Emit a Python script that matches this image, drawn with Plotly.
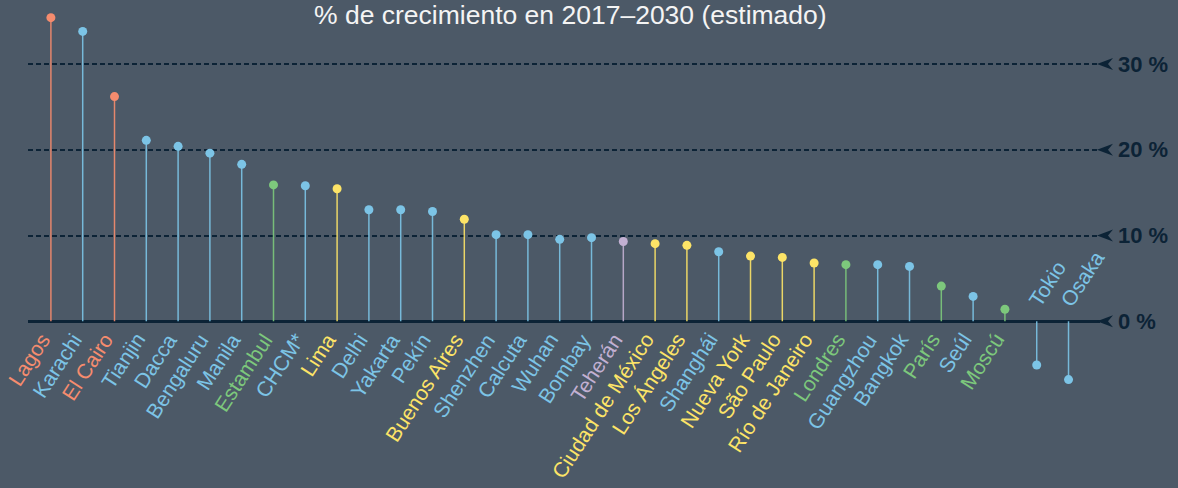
import plotly.graph_objects as go

cities = ["Lagos", "Karachi", "El Cairo", "Tianjin", "Dacca", "Bengaluru", "Manila",
          "Estambul", "CHCM*", "Lima", "Delhi", "Yakarta", "Pekín", "Buenos Aires",
          "Shenzhen", "Calcuta", "Wuhan", "Bombay", "Teherán", "Ciudad de México",
          "Los Ángeles", "Shanghái", "Nueva York", "São Paulo", "Río de Janeiro",
          "Londres", "Guangzhou", "Bangkok", "París", "Seúl", "Moscú", "Tokio", "Osaka"]
growth = [35.4, 33.8, 26.2, 21.1, 20.4, 19.6, 18.3,
          15.9, 15.8, 15.45, 13.0, 13.0, 12.8, 11.9,
          10.1, 10.1, 9.55, 9.75, 9.3, 9.05,
          8.85, 8.1, 7.6, 7.45, 6.8,
          6.6, 6.6, 6.4, 4.1, 2.9, 1.4, -5.1, -6.8]
region = ["africa", "asia", "africa", "asia", "asia", "asia", "asia",
          "europa", "asia", "america", "asia", "asia", "asia", "america",
          "asia", "asia", "asia", "asia", "oriente", "america",
          "america", "asia", "america", "america", "america",
          "europa", "asia", "asia", "europa", "asia", "europa", "asia", "asia"]
region_colors = {"africa": "#f68c6e", "asia": "#7cc4e6", "europa": "#7dc87c",
                 "america": "#fde467", "oriente": "#c2b0d2"}
tick_vals = [0, 10, 20, 30]
tick_text = ["0 %", "10 %", "20 %", "30 %"]
title_text = "% de crecimiento en 2017–2030 (estimado)"

BG = "#4c5967"
DARK = "#0c2336"
FONT = "Liberation Sans, Arial, sans-serif"

fig = go.Figure()
idx = list(range(len(cities)))

for reg, col in region_colors.items():
    xs, ys = [], []
    for i, v, r in zip(idx, growth, region):
        if r == reg:
            xs += [i, i, None]
            ys += [0, v, None]
    fig.add_trace(go.Scatter(x=xs, y=ys, mode="lines",
                             line=dict(color=col, width=1.5),
                             opacity=0.9, hoverinfo="skip", showlegend=False))

fig.add_trace(go.Scatter(x=idx, y=growth, mode="markers",
                         marker=dict(color=[region_colors[r] for r in region], size=9,
                                     line=dict(width=0)),
                         text=cities, hovertemplate="%{text}: %{y} %<extra></extra>",
                         showlegend=False))

annotations = []
for i, (c, v, r) in enumerate(zip(cities, growth, region)):
    col = region_colors[r]
    if v >= 0:
        annotations.append(dict(x=i, y=0, xref="x", yref="y", text=c, showarrow=False,
                                textangle=-57, xanchor="right", yanchor="top",
                                xshift=6, yshift=-5,
                                font=dict(family=FONT, size=21, color=col)))
    else:
        annotations.append(dict(x=i, y=0, xref="x", yref="y", text=c, showarrow=False,
                                textangle=-57, xanchor="left", yanchor="bottom",
                                xshift=-15, yshift=8,
                                font=dict(family=FONT, size=21, color=col)))

annotations.append(dict(x=0.5056, y=1, xref="paper", yref="paper", text=title_text,
                        showarrow=False, xanchor="center", yanchor="top", yshift=2,
                        font=dict(family=FONT, size=26.5, color="#f4f4f4")))

shapes = []
for tv in tick_vals:
    shapes.append(dict(type="path", xref="paper", yref="y",
                       xsizemode="pixel", ysizemode="pixel",
                       xanchor=1, yanchor=tv,
                       path="M-3,0 L13,-6 L8,0 L13,6 Z",
                       fillcolor=DARK, line=dict(width=0)))

fig.update_layout(
    width=1178, height=488,
    paper_bgcolor=BG, plot_bgcolor=BG,
    margin=dict(l=28, r=78, t=0, b=0),
    annotations=annotations, shapes=shapes,
    xaxis=dict(range=[-0.72, 32.99], showgrid=False, zeroline=False,
               showticklabels=False, showline=False, fixedrange=True),
    yaxis=dict(range=[-19.44, 37.46], side="right",
               tickvals=tick_vals, ticktext=tick_text,
               tickfont=dict(family=FONT, size=22, color=DARK, weight="bold"),
               ticklabelstandoff=17, ticks="",
               showgrid=True, gridcolor=DARK, gridwidth=1.5, griddash="5px,3px",
               zeroline=True, zerolinecolor=DARK, zerolinewidth=3,
               showline=False, fixedrange=True),
    showlegend=False,
)

fig.write_html("out.html", config={"displayModeBar": False},
               post_script="document.body.style.margin='0';document.body.style.padding='0';")
